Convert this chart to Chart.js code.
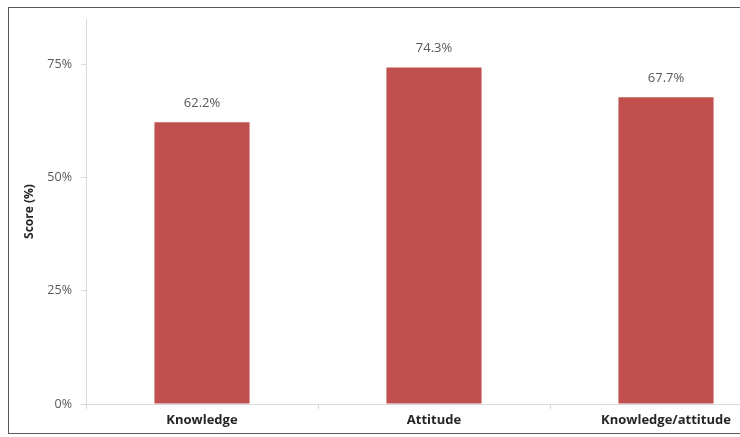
<!DOCTYPE html>
<html>
<head>
<meta charset="utf-8">
<script src="https://cdn.jsdelivr.net/npm/chart.js@4"></script>
<style>
  html, body { margin: 0; padding: 0; background: #fff; overflow: hidden; }
  #wrap { position: absolute; left: 0; top: 0; width: 820px; height: 437px; }
  #frame {
    position: absolute; left: 8px; top: 7px; width: 900px; height: 425px;
    border: 1.5px solid #595959; border-right: none; pointer-events: none;
  }
</style>
</head>
<body>
<div id="wrap"><canvas id="chart" width="820" height="437"></canvas></div>
<div id="frame"></div>
<script>
const categories = ['Knowledge', 'Attitude', 'Knowledge/attitude'];
const scores = [62.2, 74.3, 67.7];
const yTicks = [0, 25, 50, 75];

const FONT = '"Open Sans", "DejaVu Sans", sans-serif';

// value labels above each bar
const barLabels = {
    id: 'barLabels',
    afterDatasetsDraw(chart) {
        const ctx = chart.ctx;
        const meta = chart.getDatasetMeta(0);
        ctx.save();
        ctx.font = '13px ' + FONT;
        ctx.fillStyle = '#595959';
        ctx.textAlign = 'center';
        ctx.textBaseline = 'middle';
        meta.data.forEach((bar, i) => {
            ctx.fillText(scores[i].toFixed(1) + '%', bar.x, bar.y - 19);
        });
        ctx.restore();
    }
};

new Chart(document.getElementById('chart'), {
    type: 'bar',
    data: {
        labels: categories,
        datasets: [{
            data: scores,
            backgroundColor: '#C0504D',
            borderWidth: 0,
            categoryPercentage: 1,
            barPercentage: 0.41
        }]
    },
    options: {
        responsive: false,
        animation: false,
        layout: { padding: { top: 19, right: 38, left: 0, bottom: 0 } },
        plugins: { legend: { display: false }, tooltip: { enabled: false } },
        scales: {
            x: {
                grid: { display: true, drawOnChartArea: false, offset: true, tickLength: 5, color: '#d9d9d9' },
                border: { color: '#d9d9d9' },
                ticks: {
                    color: '#262626',
                    font: { family: FONT, size: 13, weight: 'bold' },
                    padding: 3,
                    maxRotation: 0
                },
                afterFit: (scale) => { scale.height = 33; }
            },
            y: {
                min: 0,
                max: 85,
                grid: { display: true, drawOnChartArea: false, tickLength: 5, color: '#d9d9d9' },
                border: { color: '#d9d9d9' },
                ticks: {
                    color: '#595959',
                    font: { family: FONT, size: 12.5 },
                    padding: 9,
                    callback: (v) => v + '%'
                },
                afterBuildTicks: (scale) => { scale.ticks = yTicks.map(v => ({ value: v })); },
                title: {
                    display: true,
                    text: 'Score (%)',
                    color: '#262626',
                    font: { family: FONT, size: 12, weight: 'bold' },
                    padding: { top: 22, bottom: 0 }
                },
                afterFit: (scale) => { scale.width = 86; }
            }
        }
    },
    plugins: [barLabels]
});
</script>
</body>
</html>
